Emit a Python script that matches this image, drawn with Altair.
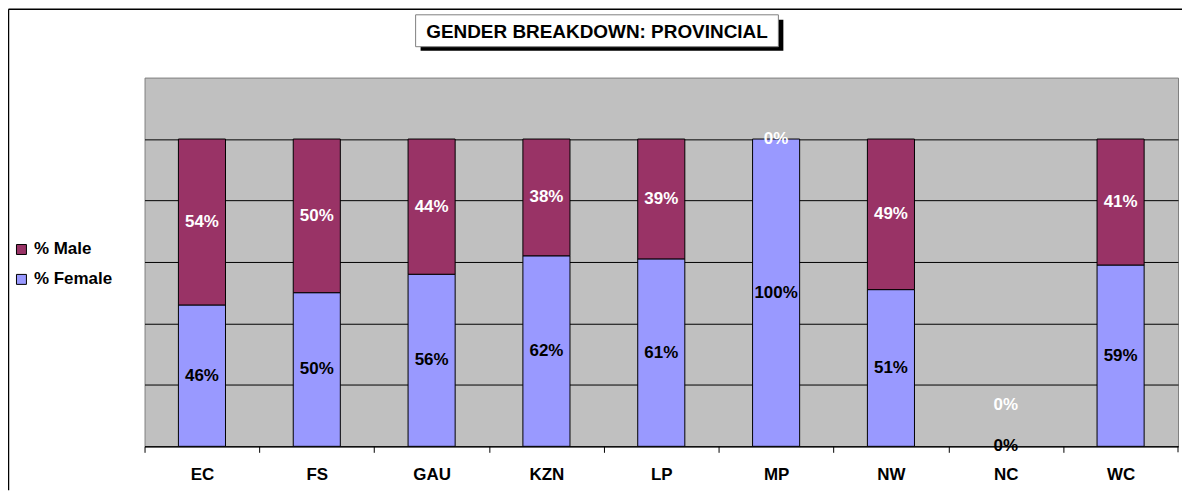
import altair as alt
import pandas as pd

provinces = ["EC", "FS", "GAU", "KZN", "LP", "MP", "NW", "NC", "WC"]
pct_female = [46, 50, 56, 62, 61, 100, 51, 0, 59]
pct_male = [54, 50, 44, 38, 39, 0, 49, 0, 41]
series_names = ["% Male", "% Female"]
series_colors = ["#993366", "#9999FF"]
chart_title = "GENDER BREAKDOWN: PROVINCIAL"
# in the original the white NC label floats above the empty column
male_label_override = {"NC": 13.5}

rows = []
for p, f, m in zip(provinces, pct_female, pct_male):
    rows.append(dict(province=p, series="% Female", start=0, end=f,
                     label=f"{f}%", mid=f / 2))
    rows.append(dict(province=p, series="% Male", start=f, end=f + m,
                     label=f"{m}%", mid=male_label_override.get(p, f + m / 2)))
df = pd.DataFrame(rows)

FONT = "Liberation Sans"
W, H = 1037, 370
STEP = W / len(provinces)

x_scale = alt.Scale(paddingInner=0.59, paddingOuter=0.295)
x_axis = alt.Axis(title=None, labelAngle=0, tickSize=6,
                  tickOffset=-STEP / 2, labelOffset=STEP / 2,
                  tickColor="black", domainColor="black", labelColor="black",
                  labelFont=FONT, labelFontSize=17, labelFontWeight="bold",
                  labelPadding=14, grid=False)
y_scale = alt.Scale(domain=[0, 120], nice=False)
y_axis = alt.Axis(values=[0, 20, 40, 60, 80, 100], labels=False,
                  ticks=False, domain=False, title=None, grid=True,
                  gridColor="black", gridOpacity=1, gridWidth=1)

bars = alt.Chart(df).mark_bar(stroke="black", strokeWidth=1).encode(
    x=alt.X("province:N", sort=provinces, scale=x_scale, axis=x_axis),
    y=alt.Y("start:Q", scale=y_scale, axis=y_axis),
    y2="end:Q",
    strokeOpacity=alt.condition(alt.datum.start == alt.datum.end,
                                alt.value(0), alt.value(1)),
    color=alt.Color("series:N",
                    scale=alt.Scale(domain=series_names, range=series_colors),
                    legend=alt.Legend(orient="none", legendX=-132, legendY=164,
                                      title=None, symbolType="square",
                                      symbolSize=100, symbolStrokeColor="black",
                                      symbolStrokeWidth=1, symbolOpacity=1,
                                      labelFont=FONT, labelFontSize=17,
                                      labelFontWeight="bold", labelColor="black",
                                      rowPadding=12, labelOffset=4)),
)

def labels(series, color):
    return alt.Chart(df).transform_filter(
        alt.datum.series == series
    ).mark_text(font=FONT, fontSize=17, fontWeight="bold", color=color,
                baseline="middle", align="center").encode(
        x=alt.X("province:N", sort=provinces, scale=x_scale, axis=x_axis),
        y=alt.Y("mid:Q", scale=y_scale, axis=y_axis),
        text="label:N",
    )

title_df = pd.DataFrame({"title": [chart_title]})
shadow = alt.Chart(title_df).mark_rect(color="black").encode(
    x=alt.value(277), x2=alt.value(641), y=alt.value(-58), y2=alt.value(-27))
box = alt.Chart(title_df).mark_rect(fill="white", stroke="#808080", strokeWidth=1).encode(
    x=alt.value(272), x2=alt.value(636), y=alt.value(-63), y2=alt.value(-31))
title_text = alt.Chart(title_df).mark_text(font=FONT, fontSize=19, fontWeight="bold",
                                           color="black", align="center",
                                           baseline="middle").encode(
    x=alt.value(454), y=alt.value(-46), text="title:N")

end_tick = alt.Chart(title_df).mark_rule(color="black").encode(
    x=alt.value(W), y=alt.value(H), y2=alt.value(H + 6))
top_border = alt.Chart(title_df).mark_rule(color="black", strokeWidth=1.5).encode(
    x=alt.value(-136.5), x2=alt.value(W + 4), y=alt.value(-68.5))
left_border = alt.Chart(title_df).mark_rule(color="black", strokeWidth=1.5).encode(
    x=alt.value(-136.5), y=alt.value(-68.5), y2=alt.value(H + 44))

chart = alt.layer(
    bars, labels("% Male", "white"), labels("% Female", "black"),
    shadow, box, title_text, end_tick, top_border, left_border,
).properties(
    width=W, height=H, background="white",
    autosize=alt.AutoSizeParams(type="none"),
    padding={"left": 137, "top": 69, "right": 4, "bottom": 44},
).configure_view(
    fill="#C0C0C0", stroke="#808080", strokeWidth=1
)

chart.save("out.html", embed_options={"renderer": "svg", "actions": False})
